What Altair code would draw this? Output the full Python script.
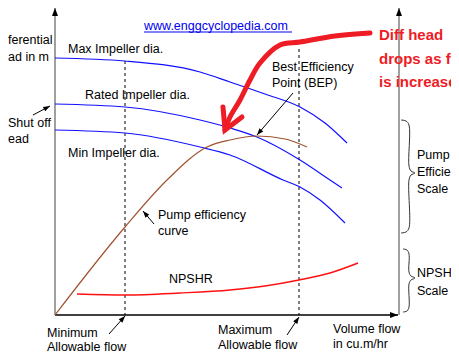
import math
import altair as alt
import pandas as pd

# ---- curve data (schematic, in picture units) ----
max_x = [55, 125, 200, 230, 265, 300, 325, 347]
max_y = [58, 61, 72, 82, 94, 107, 123, 143]
rated_x = [55, 125, 200, 230, 257, 300, 330, 342]
rated_y = [104, 107, 120, 128, 137, 160, 180, 188]
min_x = [55, 125, 200, 230, 283, 300, 320, 345]
min_y = [130, 133, 147, 155, 180, 187, 200, 223]
eff_x = [55, 125, 167, 207, 230, 257, 285, 307]
eff_y = [315, 227, 180, 147, 140, 136, 139, 147]
npshr_x = [77, 125, 180, 230, 265, 299, 330, 358]
npshr_y = [294, 295, 293, 290, 286, 280, 273, 263]

# red annotation arrow
red_x = [370, 335, 300, 280, 260, 250, 240, 230, 225]
red_y = [33, 36, 42, 45, 63, 80, 100, 117, 130]
red_head_x = [223, 225, 242]
red_head_y = [107, 130, 117]

# braces
brace_pump_x = [401, 406, 409, 409, 411, 415, 411, 409, 409, 406, 401]
brace_pump_y = [120, 121, 125, 166, 171, 173, 175, 180, 228, 232, 233]
brace_npshr_x = [403, 407, 409, 409, 411, 415, 411, 409, 409, 407, 403]
brace_npshr_y = [249, 250, 254, 272, 276, 278, 280, 284, 307, 311, 312]

# axes: (x1, y1, x2, y2)
axis_x1 = [55, 55, 399]
axis_y1 = [315, 315, 315]
axis_x2 = [55, 398, 399]
axis_y2 = [8, 315, 8]
axis_color = ["#888888", "#000000", "#888888"]

# dashed limits
dash_x = [125, 299]
dash_top = [61, 49]
dash_bottom = [315, 315]

# thin black arrows
arr_tail_x = [33, 154, 109, 287, 293]
arr_tail_y = [115, 224, 334, 335, 93]
arr_tip_x = [50, 143, 125, 299, 257]
arr_tip_y = [106, 211, 316, 317, 135]

# labels
lab_x = [8, 8, 8, 8, 68, 85, 68, 272, 272, 158, 158, 169, 47, 47, 218, 218, 333, 333, 417, 417, 417, 417, 417]
lab_y = [40, 57, 123, 139, 49, 95, 153, 67, 83, 215, 231, 279, 333, 347, 330, 345, 329, 344, 155, 172, 189, 273, 291]
lab_text = ["ferential", "ad in m", "Shut off", "ead", "Max Impeller dia.", "Rated Impeller dia.",
            "Min Impeller dia.", "Best Efficiency", "Point (BEP)", "Pump efficiency", "curve", "NPSHR",
            "Minimum", "Allowable flow", "Maximum", "Allowable flow", "Volume flow", "in cu.m/hr",
            "Pump", "Efficiency", "Scale", "NPSHR", "Scale"]

red_text_x = [379, 379, 379]
red_text_y = [35, 59, 82]
red_text = ["Diff head", "drops as flow", "is increased"]

link_text = "www.enggcyclopedia.com"
link_x, link_y, link_x2 = 144, 26, 292

XS = alt.Scale(domain=[8, 451], nice=False, zero=False)
YS = alt.Scale(domain=[8, 354], reverse=True, nice=False, zero=False)


def X(f):
    return alt.X(f, type="quantitative", scale=XS, axis=None)


def Y(f):
    return alt.Y(f, type="quantitative", scale=YS, axis=None)


def line_layer(xs, ys, color, width, interp="monotone", ordered=False, group=None, cap="butt"):
    df = pd.DataFrame({"x": xs, "y": ys, "o": list(range(len(xs)))})
    enc = dict(x=X("x"), y=Y("y"))
    if group is not None:
        df["g"] = group
        enc["detail"] = "g:N"
    if ordered:
        enc["order"] = alt.Order("o:Q")
    return alt.Chart(df).mark_line(color=color, strokeWidth=width, interpolate=interp,
                                   strokeCap=cap).encode(**enc)


def text_layer(xs, ys, texts, color="black", size=12.5, weight="normal"):
    df = pd.DataFrame({"x": xs, "y": ys, "t": texts})
    return alt.Chart(df).mark_text(align="left", baseline="middle", font="Liberation Sans",
                                   fontSize=size, fontWeight=weight, color=color).encode(
        x=X("x"), y=Y("y"), text="t:N")


HEAD = "M0,0L-0.6,1.6L0.6,1.6Z"


def heads(xs, ys, angles, size):
    df = pd.DataFrame({"x": xs, "y": ys, "a": angles})
    return alt.Chart(df).mark_point(shape=HEAD, filled=True, color="black", size=size,
                                    opacity=1, strokeWidth=0).encode(
        x=X("x"), y=Y("y"), angle=alt.Angle("a:Q", scale=None))


def ang(tx, ty, hx, hy):
    return (math.degrees(math.atan2(hx - tx, -(hy - ty))) + 360) % 360


layers = []

# axes
ax_df = pd.DataFrame({"x": axis_x1, "y": axis_y1, "x2": axis_x2, "y2": axis_y2, "c": axis_color})
layers.append(alt.Chart(ax_df).mark_rule(strokeWidth=1.6).encode(
    x=X("x"), y=Y("y"), x2="x2", y2="y2", color=alt.Color("c:N", scale=None)))
layers.append(heads([axis_x2[0], axis_x2[1], axis_x2[2]], [axis_y2[0], axis_y2[1], axis_y2[2]],
                    [0, 90, 0], 100))

# dashed limit lines
d_df = pd.DataFrame({"x": dash_x, "y": dash_top, "y2": dash_bottom})
layers.append(alt.Chart(d_df).mark_rule(color="black", strokeWidth=1, strokeDash=[3, 3]).encode(
    x=X("x"), y=Y("y"), y2="y2"))

# curves
layers.append(line_layer(max_x, max_y, "#1010ff", 1.2))
layers.append(line_layer(rated_x, rated_y, "#1010ff", 1.2))
layers.append(line_layer(min_x, min_y, "#1010ff", 1.2))
layers.append(line_layer(eff_x, eff_y, "#a0522d", 1.2))
layers.append(line_layer(npshr_x, npshr_y, "#ff1010", 1.4))

# braces
layers.append(line_layer(brace_pump_x + brace_npshr_x, brace_pump_y + brace_npshr_y, "#333333", 1,
                         interp="catmull-rom", ordered=True,
                         group=["p"] * len(brace_pump_x) + ["n"] * len(brace_npshr_x)))

# thin arrows
a_df = pd.DataFrame({"x": arr_tail_x, "y": arr_tail_y, "x2": arr_tip_x, "y2": arr_tip_y})
layers.append(alt.Chart(a_df).mark_rule(color="black", strokeWidth=1).encode(
    x=X("x"), y=Y("y"), x2="x2", y2="y2"))
layers.append(heads(arr_tip_x, arr_tip_y,
                    [ang(a, b, c, d) for a, b, c, d in zip(arr_tail_x, arr_tail_y, arr_tip_x, arr_tip_y)],
                    70))

# texts
layers.append(text_layer(lab_x, lab_y, lab_text))
layers.append(text_layer(red_text_x, red_text_y, red_text, color="#ee1c25", size=15, weight="bold"))
layers.append(text_layer([link_x], [link_y], [link_text], color="#0000ee"))
u_df = pd.DataFrame({"x": [link_x], "x2": [link_x2], "y": [link_y + 6]})
layers.append(alt.Chart(u_df).mark_rule(color="#0000ee", strokeWidth=1).encode(
    x=X("x"), x2="x2", y=Y("y")))

# red annotation arrow
layers.append(line_layer(red_x, red_y, "#ee1c25", 5, interp="catmull-rom", ordered=True, cap="round"))
layers.append(line_layer(red_head_x, red_head_y, "#ee1c25", 5, interp="linear", ordered=True, cap="round"))

chart = alt.layer(*layers).properties(
    width=443, height=346, padding=0, autosize="none"
).configure_view(stroke=None)

chart.save("out.html", embed_options={"renderer": "svg", "actions": False})
